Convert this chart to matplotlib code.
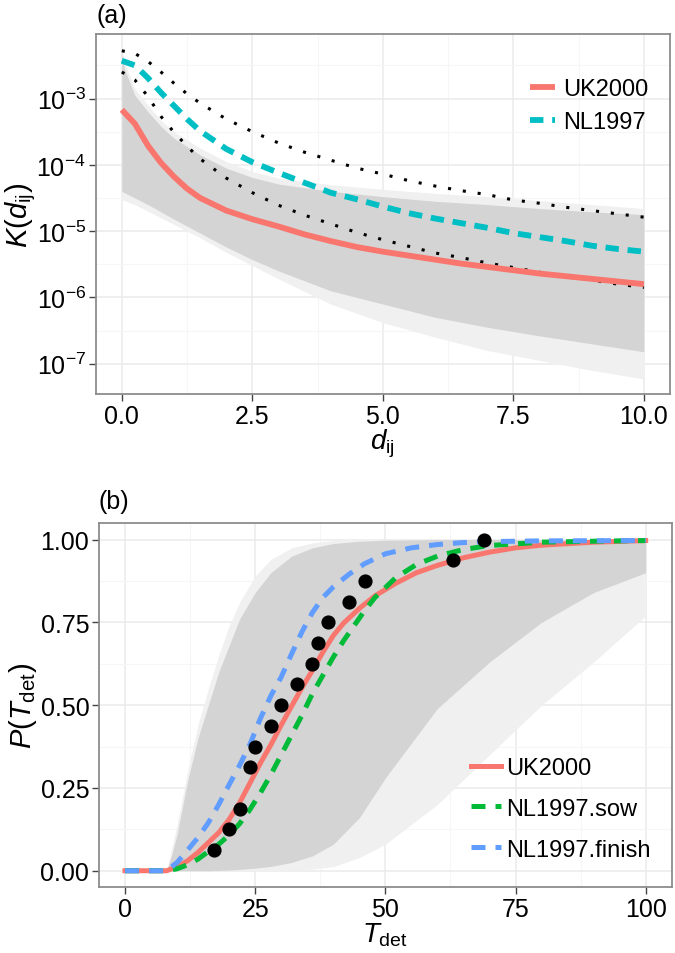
import matplotlib
matplotlib.use("Agg")
import matplotlib.pyplot as plt
import numpy as np

plt.rcParams['font.family'] = ['Liberation Sans', 'DejaVu Sans']
plt.rcParams['mathtext.fontset'] = 'custom'
plt.rcParams['mathtext.rm'] = 'Liberation Sans'
plt.rcParams['mathtext.it'] = 'Liberation Sans:italic'
plt.rcParams['mathtext.bf'] = 'Liberation Sans:bold'

# ---- panel (a): transmission kernel, values are log10 K
d = [0, 0.25, 0.5, 0.75, 1.0, 1.25, 1.5, 2.0, 2.5, 3.0, 3.5, 4.0, 4.5, 5.0,
     5.5, 6.0, 6.5, 7.0, 7.5, 8.0, 8.5, 9.0, 9.5, 10.0]
logk_uk2000 = [-3.17, -3.38, -3.71, -3.97, -4.18, -4.36, -4.50, -4.69, -4.82, -4.93, -5.05, -5.15,
               -5.24, -5.31, -5.37, -5.43, -5.49, -5.54, -5.59, -5.64, -5.68, -5.72, -5.76, -5.80]
logk_nl1997 = [-2.43, -2.50, -2.69, -2.91, -3.11, -3.31, -3.49, -3.76, -3.96, -4.12, -4.27, -4.42,
               -4.52, -4.63, -4.73, -4.81, -4.88, -4.95, -5.03, -5.09, -5.15, -5.22, -5.27, -5.31]
logk_ci_hi = [-2.28, -2.32, -2.44, -2.60, -2.77, -2.93, -3.07, -3.31, -3.50, -3.67, -3.81, -3.93,
              -4.05, -4.14, -4.24, -4.32, -4.39, -4.45, -4.53, -4.58, -4.64, -4.69, -4.74, -4.79]
logk_ci_lo = [-2.60, -2.72, -2.97, -3.27, -3.51, -3.72, -3.91, -4.20, -4.42, -4.61, -4.76, -4.89,
              -5.02, -5.13, -5.23, -5.33, -5.40, -5.48, -5.55, -5.62, -5.69, -5.74, -5.80, -5.85]

# envelope of the posterior sample curves (grey band)
d_env = [0, 0.05, 0.25, 0.5, 0.75, 1.0, 1.5, 2.0, 2.5, 3.0, 4.0, 5.0, 6.0, 7.0, 8.0, 9.0, 10.0]
env_hi_faint = [-2.25, -2.45, -2.85, -3.1, -3.33, -3.5, -3.75, -3.95, -4.1, -4.2, -4.3, -4.37,
                -4.43, -4.48, -4.54, -4.6, -4.66]
env_hi = [-2.3, -2.55, -2.95, -3.2, -3.42, -3.6, -3.85, -4.05, -4.19, -4.29, -4.4, -4.48,
          -4.55, -4.6, -4.66, -4.71, -4.75]
env_lo = [-4.4, -4.42, -4.5, -4.6, -4.71, -4.82, -5.03, -5.24, -5.43, -5.6, -5.9, -6.1,
          -6.3, -6.45, -6.58, -6.7, -6.82]
env_lo_faint = [-4.52, -4.54, -4.6, -4.7, -4.8, -4.9, -5.1, -5.32, -5.52, -5.72, -6.1, -6.38,
                -6.6, -6.8, -6.95, -7.1, -7.23]

# ---- panel (b): detection time distribution
t_red = [0, 8, 10, 12, 14, 16, 18, 20, 22, 24, 26, 28, 30, 32, 34, 36, 38, 40, 42, 45,
         48, 52, 56, 60, 65, 70, 75, 80, 90, 100]
p_red = [0, 0, 0.012, 0.03, 0.055, 0.085, 0.115, 0.155, 0.205, 0.265, 0.325, 0.38, 0.44, 0.497,
         0.553, 0.605, 0.66, 0.71, 0.748, 0.792, 0.83, 0.868, 0.9, 0.922, 0.945, 0.962, 0.975,
         0.983, 0.992, 0.997]
t_sow = [0, 8, 10, 12, 14, 16, 18, 20, 22, 24, 26, 28, 30, 32, 34, 36, 38, 40, 42, 44, 46,
         48, 52, 56, 60, 65, 70, 80, 90, 100]
p_sow = [0, 0, 0.006, 0.018, 0.035, 0.058, 0.08, 0.108, 0.142, 0.185, 0.235, 0.29, 0.35, 0.41,
         0.47, 0.535, 0.59, 0.645, 0.695, 0.74, 0.785, 0.825, 0.885, 0.925, 0.95, 0.97, 0.982,
         0.992, 0.995, 0.997]
t_fin = [0, 8, 10, 12, 14, 16, 18, 20, 22, 24, 26, 28, 30, 32, 34, 36, 38, 40, 43, 46, 50,
         55, 60, 65, 70, 80, 100]
p_fin = [0, 0, 0.025, 0.062, 0.1, 0.145, 0.2, 0.26, 0.318, 0.382, 0.46, 0.528, 0.585, 0.655,
         0.722, 0.78, 0.825, 0.857, 0.895, 0.927, 0.957, 0.975, 0.985, 0.991, 0.994, 0.996, 0.997]
t_obs = [17, 20, 22, 24, 25, 28, 30, 33, 36, 37, 39, 43, 46, 63, 69]
p_obs = [0.0625, 0.125, 0.1875, 0.3125, 0.375, 0.4375, 0.5, 0.5625, 0.625, 0.6875, 0.75,
         0.8125, 0.875, 0.9375, 1.0]

t_env = [8, 9, 10, 12, 14, 16, 18, 20, 22, 25, 28, 32, 36, 40, 45, 50, 60, 70, 80, 90, 100]
penv_hi_faint = [0, 0.07, 0.14, 0.3, 0.44, 0.55, 0.65, 0.74, 0.81, 0.89, 0.94, 0.975, 0.99,
                 0.997, 1, 1, 1, 1, 1, 1, 1]
penv_hi = [0, 0.05, 0.11, 0.27, 0.4, 0.5, 0.6, 0.68, 0.76, 0.84, 0.9, 0.95, 0.975, 0.988,
           0.995, 0.998, 1, 1, 1, 1, 1]
penv_lo = [0, 0, 0, 0, 0, 0, 0.001, 0.002, 0.004, 0.008, 0.013, 0.025, 0.045, 0.08, 0.16,
           0.28, 0.49, 0.63, 0.75, 0.84, 0.9]
penv_lo_faint = [0, 0, 0, 0, 0, 0, 0, 0, 0, 0, 0, 0.002, 0.005, 0.012, 0.04, 0.08, 0.2, 0.35,
                 0.5, 0.63, 0.77]

RED = '#F8766D'
CYAN = '#00BFC4'
GREEN = '#00BA38'
BLUE = '#619CFF'
GREY = '#d4d4d4'
GREY_FAINT = '#f0f0f0'


def style_axes(ax):
    for s in ax.spines.values():
        s.set_color('#8c8c8c')
        s.set_linewidth(1.3)
    ax.tick_params(labelsize=18, length=5, width=1, color='#444444', pad=2)
    ax.grid(which='major', color='#ebebeb', linewidth=1.1)
    ax.grid(which='minor', color='#f6f6f6', linewidth=0.8)
    ax.set_axisbelow(True)


fig = plt.figure(figsize=(6.75, 9.54), dpi=100)

# ---------------- panel (a)
ax1 = fig.add_axes([95.7 / 675, 1 - 395 / 954, 574.3 / 675, 360 / 954])
style_axes(ax1)
p10 = lambda v: np.power(10.0, v)
ax1.fill_between(d_env, p10(env_lo_faint), p10(env_hi_faint), color=GREY_FAINT, lw=0)
ax1.fill_between(d_env, p10(env_lo), p10(env_hi), color=GREY, lw=0)
ax1.plot(d, p10(logk_ci_hi), color='black', lw=2.2, dashes=(1.0, 3.9), dash_capstyle='butt')
ax1.plot(d, p10(logk_ci_lo), color='black', lw=2.2, dashes=(1.0, 3.9), dash_capstyle='butt')
ax1.plot(d, p10(logk_uk2000), color=RED, lw=4.2, label='UK2000', solid_capstyle='butt')
ax1.plot(d, p10(logk_nl1997), color=CYAN, lw=4.2, dashes=(2.3, 1.5), label='NL1997',
         dash_capstyle='butt')
ax1.set_yscale('log')
ax1.set_xlim(-0.5, 10.5)
ax1.set_ylim(p10(-7.457), p10(-2.027))
ax1.set_xticks([0, 2.5, 5, 7.5, 10])
ax1.set_xticklabels(['0.0', '2.5', '5.0', '7.5', '10.0'])
ax1.set_xticks([1.25, 3.75, 6.25, 8.75], minor=True)
ax1.set_yticks([1e-7, 1e-6, 1e-5, 1e-4, 1e-3])
ax1.set_yticklabels([r'$\mathregular{10^{-%d}}$' % k for k in [7, 6, 5, 4, 3]])
ax1.set_yticks([p10(-6.5), p10(-5.5), p10(-4.5), p10(-3.5), p10(-2.5)], minor=True)
ax1.yaxis.set_minor_formatter(matplotlib.ticker.NullFormatter())
ax1.tick_params(which='minor', length=0)
ax1.set_ylabel(r'$K(d_{\mathrm{ij}})$', fontsize=21)
ax1.set_xlabel(r'$d_{\mathrm{ij}}$', fontsize=20)
ax1.yaxis.set_label_coords(-0.13, 0.5)
ax1.yaxis.label.set_va('center')
ax1.xaxis.set_label_coords(0.5, -0.09)
ax1.xaxis.label.set_va('top')
ax1.legend(loc='upper right', bbox_to_anchor=(1.0, 0.936), frameon=False, fontsize=17,
           handlelength=1.1, handletextpad=0.34, labelspacing=0.47)

# ---------------- panel (b)
ax2 = fig.add_axes([99 / 675, 1 - 888.3 / 954, 572.7 / 675, 364.3 / 954])
style_axes(ax2)
ax2.fill_between(t_env, penv_lo_faint, penv_hi_faint, color=GREY_FAINT, lw=0)
ax2.fill_between(t_env, penv_lo, penv_hi, color=GREY, lw=0)
ax2.plot(t_red, p_red, color=RED, lw=3.6, label='UK2000')
ax2.plot(t_sow, p_sow, color=GREEN, lw=3.6, dashes=(2.8, 2.0), label='NL1997.sow',
         dash_capstyle='butt')
ax2.plot(t_fin, p_fin, color=BLUE, lw=3.6, dashes=(2.8, 2.0), label='NL1997.finish',
         dash_capstyle='butt')
ax2.plot(t_obs, p_obs, 'o', color='black', ms=9.2, zorder=5)
ax2.set_xlim(-5, 105)
ax2.set_ylim(-0.05, 1.05)
ax2.set_xticks([0, 25, 50, 75, 100])
ax2.set_xticks([12.5, 37.5, 62.5, 87.5], minor=True)
ax2.set_yticks([0, 0.25, 0.5, 0.75, 1.0])
ax2.set_yticklabels(['0.00', '0.25', '0.50', '0.75', '1.00'])
ax2.set_yticks([0.125, 0.375, 0.625, 0.875], minor=True)
ax2.tick_params(which='minor', length=0)
ax2.set_ylabel(r'$P(T_{\mathrm{det}})$', fontsize=21)
ax2.set_xlabel(r'$T_{\mathrm{det}}$', fontsize=20)
ax2.yaxis.set_label_coords(-0.133, 0.5)
ax2.yaxis.label.set_va('center')
ax2.xaxis.set_label_coords(0.5, -0.09)
ax2.xaxis.label.set_va('top')
ax2.legend(loc='lower right', bbox_to_anchor=(1.0, 0.015), frameon=False, fontsize=17,
           handlelength=1.27, handletextpad=0.22, labelspacing=0.8)

fig.text(96 / 675, 1 - 16 / 954, '(a)', fontsize=18, va='center', ha='left')
fig.text(99 / 675, 1 - 502 / 954, '(b)', fontsize=18, va='center', ha='left')

fig.savefig('out.png', dpi=100)
